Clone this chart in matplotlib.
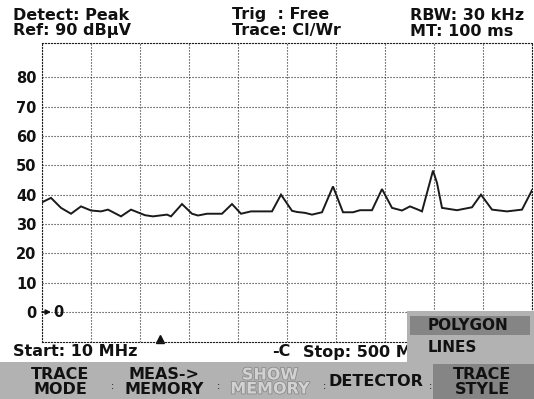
import matplotlib
matplotlib.use('Agg')
import matplotlib.pyplot as plt
import matplotlib.patheffects as pe
from matplotlib.patches import Rectangle
import numpy as np

# trace data: frequency in MHz, level in dBuV
freq_mhz = [10, 19, 29, 39, 49, 59, 69, 76, 89, 99, 113, 121, 135, 139, 150, 160,
            166, 175, 190, 200, 209, 219, 240, 249, 260, 265, 273, 280, 290, 301,
            311, 321, 328, 340, 350, 360, 370, 378, 386, 390, 395, 401, 405, 410,
            425, 440, 449, 460, 475, 490, 500]
level_dbuv = [37.4, 38.9, 35.5, 33.5, 36.0, 34.6, 34.3, 34.9, 32.6, 34.9, 33.0, 32.6,
              33.2, 32.6, 36.8, 33.5, 32.9, 33.5, 33.5, 36.8, 33.5, 34.3, 34.3, 40.0,
              34.5, 34.1, 33.8, 33.2, 34.0, 42.8, 34.0, 34.0, 34.7, 34.7, 41.9, 35.5,
              34.6, 36.0, 34.9, 34.3, 40.6, 48.2, 44.0, 35.5, 34.7, 35.7, 40.0, 34.9,
              34.3, 34.9, 41.5]

level_ticks = [0, 10, 20, 30, 40, 50, 60, 70, 80]
start_mhz, stop_mhz = 10, 500
marker_mhz = 128
ref_level = 0

header_left = ['Detect: Peak', 'Ref: 90 dB\u00b5V']
header_mid = ['Trig  : Free', 'Trace: Cl/Wr']
header_right = ['RBW: 30 kHz', 'MT: 100 ms']
softkeys = ['TRACE\nMODE', 'MEAS->\nMEMORY', 'SHOW\nMEMORY', 'DETECTOR', 'TRACE\nSTYLE']
menu_items = ['POLYGON', 'LINES']

W, H = 534, 399
LIGHT = '#b2b2b2'
DARK = '#858585'
INK = '#111111'


def fx(x):
    return x / W


def fy(y):
    return 1 - y / H


fig = plt.figure(figsize=(W / 100, H / 100), dpi=100)
fig.patch.set_facecolor('white')

ax = fig.add_axes([fx(42), fy(342), (532 - 42) / W, (342 - 43.5) / H])
ax.set_xlim(start_mhz, stop_mhz)
ax.set_ylim(-10.2, 91.5)

dots = (0, (1, 1.7))
ax.set_xticks(np.linspace(start_mhz, stop_mhz, 11))
ax.set_yticks(level_ticks)
ax.grid(True, color='#222222', linewidth=0.8, linestyle=dots)
ax.tick_params(length=0, labelbottom=False, pad=4)
ax.set_yticklabels([str(v) for v in level_ticks], fontsize=10.5, fontweight='bold', color=INK)
for s in ax.spines.values():
    s.set_linestyle(dots)
    s.set_linewidth(0.8)
    s.set_color('#222222')

# trace
ax.plot(freq_mhz, level_dbuv, color='#1a1a1a', linewidth=1.4, solid_joinstyle='miter')

# reference level marker
ax.annotate('', xy=(start_mhz + 9, ref_level), xytext=(start_mhz, ref_level),
            arrowprops=dict(arrowstyle='-|>', color=INK, lw=1.2, mutation_scale=7,
                            shrinkA=0, shrinkB=0))
ax.text(start_mhz + 11, ref_level, '0', fontsize=10.5, fontweight='bold', color=INK,
        ha='left', va='center')

# frequency marker at the bottom edge
ax.plot([marker_mhz], [-9.3], marker='^', color=INK, markersize=6, clip_on=False)

# header
hdr = dict(fontsize=11.5, fontweight='bold', color=INK, va='center', ha='left')
for x, lines in [(13, header_left), (232, header_mid), (410, header_right)]:
    fig.text(fx(x), fy(15), lines[0], **hdr)
    fig.text(fx(x), fy(31), lines[1], **hdr)

# start / stop line
fig.text(fx(13), fy(352), 'Start: 10 MHz', **hdr)
fig.text(fx(272), fy(352), '-C', **hdr)
fig.text(fx(303), fy(352), 'Stop: 500 M', **hdr)

# softkey bar
fig.add_artist(Rectangle((0, 0), 1, fy(362), transform=fig.transFigure,
                         facecolor=LIGHT, edgecolor='none'))
fig.add_artist(Rectangle((fx(433), 0), 1 - fx(433), fy(364), transform=fig.transFigure,
                         facecolor=DARK, edgecolor='none'))

# popup menu, drawn over the stop label
fig.add_artist(Rectangle((fx(407), fy(364)), 1 - fx(407), fy(311) - fy(364),
                         transform=fig.transFigure, facecolor=LIGHT, edgecolor='none',
                         zorder=4))
fig.add_artist(Rectangle((fx(410), fy(335)), fx(530) - fx(410), fy(316) - fy(335),
                         transform=fig.transFigure, facecolor=DARK, edgecolor='none',
                         zorder=4))
menu = dict(fontsize=11, fontweight='bold', color=INK, va='center', ha='left', zorder=5)
fig.text(fx(428), fy(325.5), menu_items[0], **menu)
fig.text(fx(428), fy(347), menu_items[1], **menu)

key = dict(fontsize=11.5, fontweight='bold', ha='center', va='center', linespacing=0.92)
key_x = [60, 164, 270, 376, 482]
for x, label in zip(key_x, softkeys):
    if label.startswith('SHOW'):
        # disabled key: pale letters with a grey rim
        fig.text(fx(x), fy(382), label, color='#d2d2d2',
                 path_effects=[pe.withStroke(linewidth=1.2, foreground='#8a8a8a')], **key)
    else:
        fig.text(fx(x), fy(382), label, color=INK, **key)

for x in [112, 218, 324, 430]:
    fig.text(fx(x), fy(386), ':', fontsize=7, color=INK, ha='center', va='center')

fig.savefig('out.png', dpi=100)
